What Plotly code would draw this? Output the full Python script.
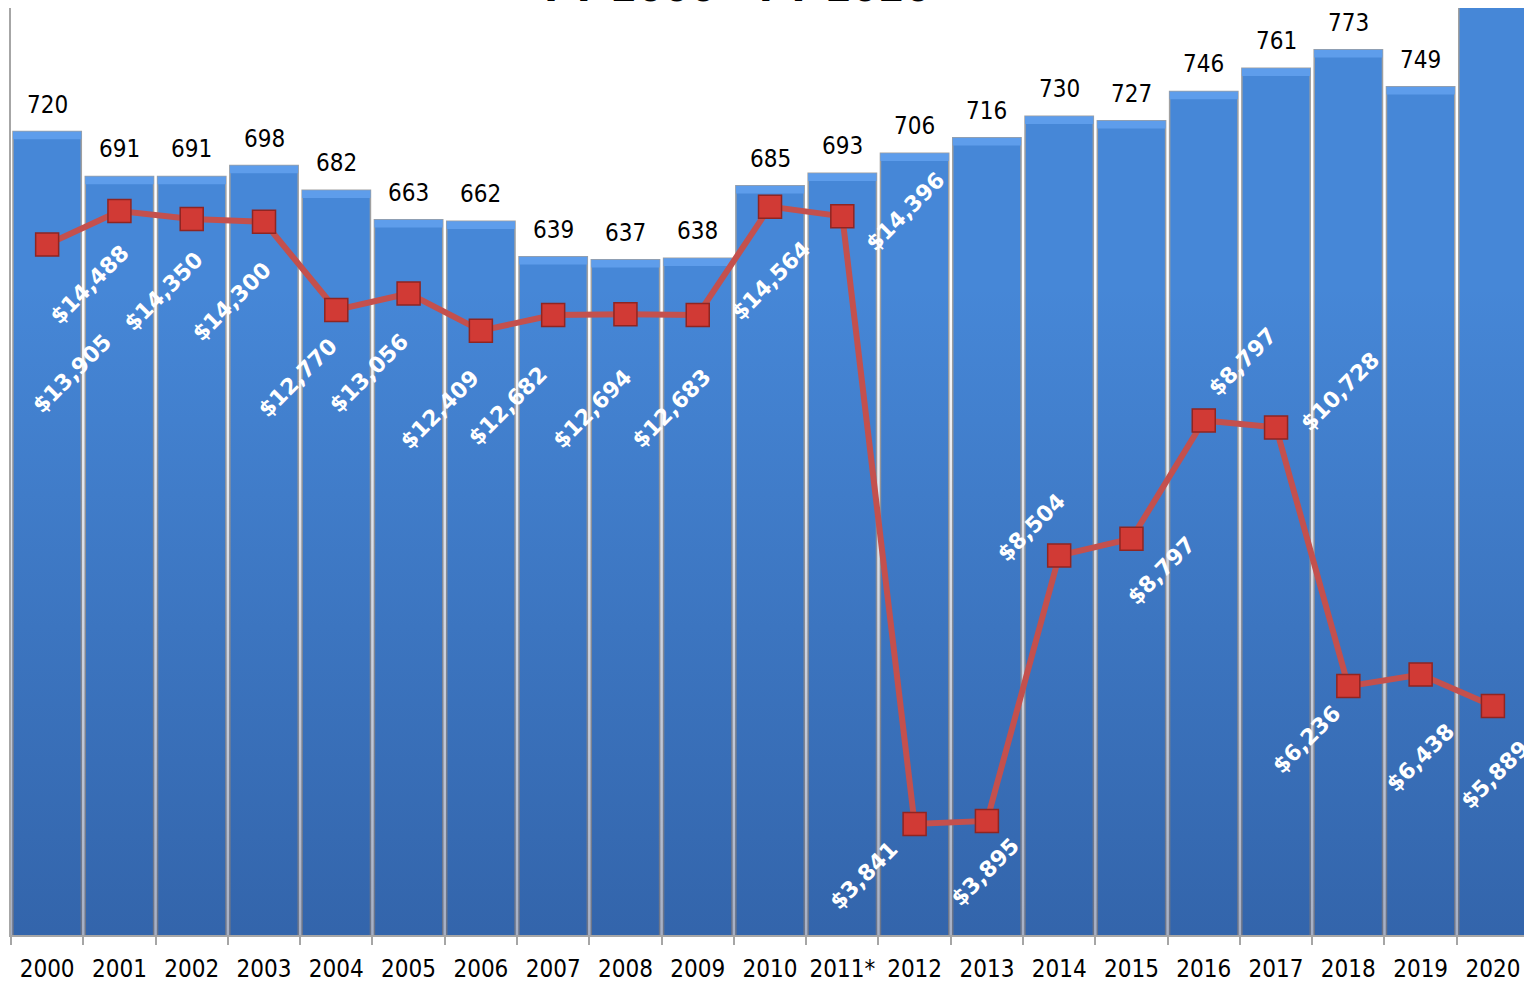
import plotly.graph_objects as go

years = ['2000', '2001', '2002', '2003', '2004', '2005', '2006', '2007', '2008', '2009',
         '2010', '2011*', '2012', '2013', '2014', '2015', '2016', '2017', '2018', '2019', '2020']
enrollment = [720, 691, 691, 698, 682, 663, 662, 639, 637, 638,
              685, 693, 706, 716, 730, 727, 746, 761, 773, 749, 805]
per_student = [13905, 14488, 14350, 14300, 12770, 13056, 12409, 12682, 12694, 12683,
               14564, 14396, 3841, 3895, 8504, 8797, 10850, 10728, 6236, 6438, 5889]
per_student_labels = ['$13,905', '$14,488', '$14,350', '$14,300', '$12,770', '$13,056', '$12,409',
                      '$12,682', '$12,694', '$12,683', '$14,564', '$14,396', '$3,841', '$3,895',
                      '$8,504', '$8,797', '$8,797', '$10,728', '$6,236', '$6,438', '$5,889']
title_text = 'FY 2000 - FY 2020'

# label offsets (pixels, right / down) from each marker
label_offsets = [(25, 129), (-30, 73), (-28, 73), (-32, 80), (-38, 68), (-40, 80), (-41, 79),
                 (-45, 91), (-33, 94), (-26, 94), (1, 74), (63, -5), (-51, 51), (-1, 51),
                 (-28, -28), (30, 32), (39, -59), (64, -36), (-42, 53), (0, 83), (2, 68)]

Y_RANGE = [200, 800]
Y2_RANGE = [1913, 18014]
X_RANGE = [-0.5, 20.43]
BAR_BLUE = '#4687d7'
BEVEL_BLUE = '#5e9deb'
LINE_RED = '#c4504d'
GRID_GREY = '#a6a6a6'

xpos = list(range(len(years)))
boundaries = [i - 0.5 for i in range(len(years) + 1)]

fig = go.Figure()

fig.add_trace(go.Bar(
    x=xpos, y=enrollment, marker=dict(color=BAR_BLUE, line=dict(color='#a0a0a0', width=1.5)),
    hoverinfo='skip', showlegend=False,
))
# top bevel highlight
bevel_h = 5
fig.add_trace(go.Bar(
    x=xpos, y=[bevel_h] * len(enrollment), base=[v - bevel_h for v in enrollment],
    marker=dict(color=BEVEL_BLUE, line=dict(width=0)),
    hoverinfo='skip', showlegend=False,
))
# vertical shading over the lower part of the plot (bar gradient)
fig.add_trace(go.Scatter(
    x=[X_RANGE[0], 20.5, 20.5, X_RANGE[0], X_RANGE[0]],
    y=[Y_RANGE[0], Y_RANGE[0], Y_RANGE[1], Y_RANGE[1], Y_RANGE[0]],
    mode='lines', line=dict(width=0), fill='toself',
    fillgradient=dict(type='vertical', start=Y_RANGE[0], stop=Y_RANGE[1],
                      colorscale=[[0, 'rgba(20,45,100,0.38)'], [0.70, 'rgba(20,45,100,0)'],
                                  [1, 'rgba(20,45,100,0)']]),
    hoverinfo='skip', showlegend=False,
))

fig.add_trace(go.Scatter(
    x=xpos, y=per_student, yaxis='y2', mode='lines+markers',
    line=dict(color=LINE_RED, width=6),
    marker=dict(symbol='square', size=23, color='#d13a35', line=dict(color='#8f2522', width=1.5)),
    hoverinfo='skip', showlegend=False,
))

annotations = []
for i, v in enumerate(enrollment):
    annotations.append(dict(
        x=i, y=min(v, Y_RANGE[1]), xref='x', yref='y', text=str(v), showarrow=False,
        xanchor='center', yanchor='bottom', yshift=11,
        font=dict(family='DejaVu Sans Condensed', size=24, color='black'),
    ))
for i, (v, lab, (dx, dy)) in enumerate(zip(per_student, per_student_labels, label_offsets)):
    annotations.append(dict(
        x=i, y=v, xref='x', yref='y2', text='<b>' + lab + '</b>', showarrow=False,
        xanchor='center', yanchor='middle', xshift=dx, yshift=-dy, textangle=-45,
        font=dict(family='DejaVu Sans', size=22, color='white'),
    ))
annotations.append(dict(
    x=0.4805, y=1, xref='paper', yref='paper', text='<b>' + title_text + '</b>', showarrow=False,
    xanchor='center', yanchor='bottom', yshift=-4,
    font=dict(family='DejaVu Sans', size=38, color='black'),
))

fig.update_layout(
    width=1524, height=987,
    margin=dict(l=11, r=0, t=8, b=52, autoexpand=False),
    paper_bgcolor='white', plot_bgcolor='white',
    barmode='overlay', bargap=0.055,
    annotations=annotations,
    xaxis=dict(
        range=X_RANGE, showgrid=False, zeroline=False,
        showline=True, linecolor=GRID_GREY, linewidth=1.5, automargin=False, tickangle=0,
        tickmode='array', tickvals=xpos, ticktext=years, ticks='', ticklabelstandoff=11,
        minor=dict(tickmode='array', tickvals=boundaries, ticks='outside', ticklen=8,
                   tickcolor=GRID_GREY, tickwidth=1.5, showgrid=False),
        tickfont=dict(family='DejaVu Sans Condensed', size=24, color='black'),
    ),
    yaxis=dict(
        range=Y_RANGE, showgrid=False, zeroline=False, showticklabels=False, automargin=False,
        showline=True, linecolor=GRID_GREY, linewidth=1.5, ticks='',
    ),
    yaxis2=dict(
        range=Y2_RANGE, overlaying='y', side='right', showgrid=False, zeroline=False,
        showticklabels=False, showline=False, ticks='', automargin=False,
    ),
)

fig.write_html('out.html', config={'displayModeBar': False},
               post_script="document.body.style.margin='0';document.body.style.overflow='hidden';")
